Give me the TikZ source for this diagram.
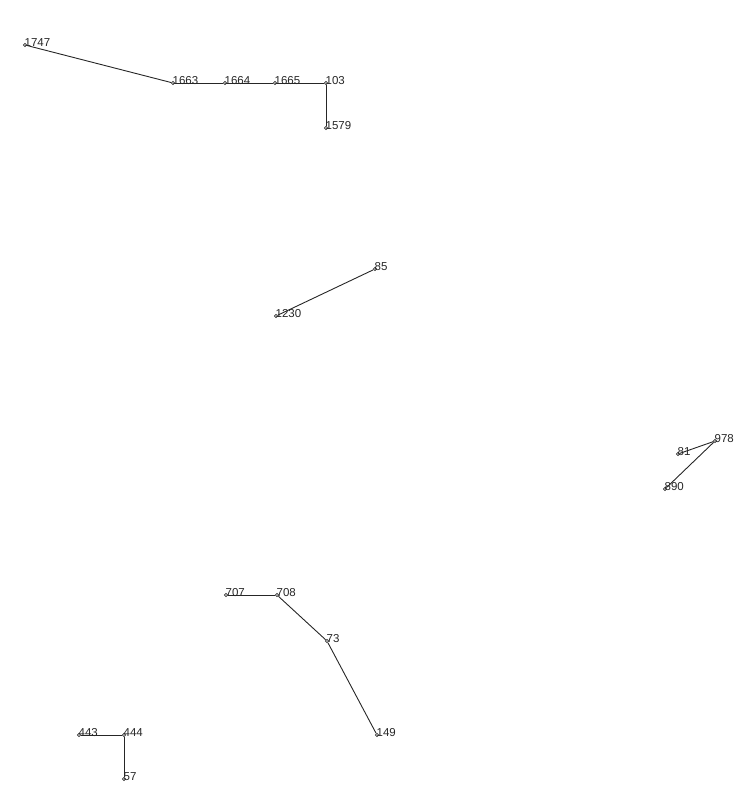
\documentclass[tikz,border=0pt]{standalone}
\usepackage{fontspec}
\setmainfont{Liberation Sans}
\begin{document}
\begin{tikzpicture}[x=1pt,y=-1pt,
  pt/.style={circle,draw=black!80,fill=white,inner sep=0pt,minimum size=3.2pt,line width=0.7pt},
  lab/.style={anchor=base west,inner sep=0pt,xshift=-0.5pt,yshift=-1pt,font=\fontsize{11.5}{11.5}\selectfont,text=black!85},
  edge/.style={draw=black!85,line width=0.9pt}]
\useasboundingbox (0,0) rectangle (754,787);
% points
\node[pt] (n1747) at (25,45) {};
\node[pt] (n1663) at (173,83) {};
\node[pt] (n1664) at (225,83) {};
\node[pt] (n1665) at (275,83) {};
\node[pt] (n103) at (326,83) {};
\node[pt] (n1579) at (326,128) {};
\node[pt] (n85) at (375,269) {};
\node[pt] (n1230) at (276,316) {};
\node[pt] (n978) at (715,441) {};
\node[pt] (n81) at (678,454) {};
\node[pt] (n890) at (665,489) {};
\node[pt] (n707) at (226,595) {};
\node[pt] (n708) at (277,595) {};
\node[pt] (n73) at (327,641) {};
\node[pt] (n149) at (377,735) {};
\node[pt] (n443) at (79,735) {};
\node[pt] (n444) at (124,735) {};
\node[pt] (n57) at (124,779) {};
% edges
\draw[edge] (n1747) -- (n1663);
\draw[edge] (n1663) -- (n1664);
\draw[edge] (n1664) -- (n1665);
\draw[edge] (n1665) -- (n103);
\draw[edge] (n103) -- (n1579);
\draw[edge] (n85) -- (n1230);
\draw[edge] (n81) -- (n978);
\draw[edge] (n978) -- (n890);
\draw[edge] (n707) -- (n708);
\draw[edge] (n708) -- (n73);
\draw[edge] (n73) -- (n149);
\draw[edge] (n443) -- (n444);
\draw[edge] (n444) -- (n57);
% labels
\node[lab] (l1747) at (n1747.center) {1747};
\node[lab] (l1663) at (n1663.center) {1663};
\node[lab] (l1664) at (n1664.center) {1664};
\node[lab] (l1665) at (n1665.center) {1665};
\node[lab] (l103) at (n103.center) {103};
\node[lab] (l1579) at (n1579.center) {1579};
\node[lab] (l85) at (n85.center) {85};
\node[lab] (l1230) at (n1230.center) {1230};
\node[lab] (l978) at (n978.center) {978};
\node[lab] (l81) at (n81.center) {81};
\node[lab] (l890) at (n890.center) {890};
\node[lab] (l707) at (n707.center) {707};
\node[lab] (l708) at (n708.center) {708};
\node[lab] (l73) at (n73.center) {73};
\node[lab] (l149) at (n149.center) {149};
\node[lab] (l443) at (n443.center) {443};
\node[lab] (l444) at (n444.center) {444};
\node[lab] (l57) at (n57.center) {57};
\end{tikzpicture}
\end{document}
